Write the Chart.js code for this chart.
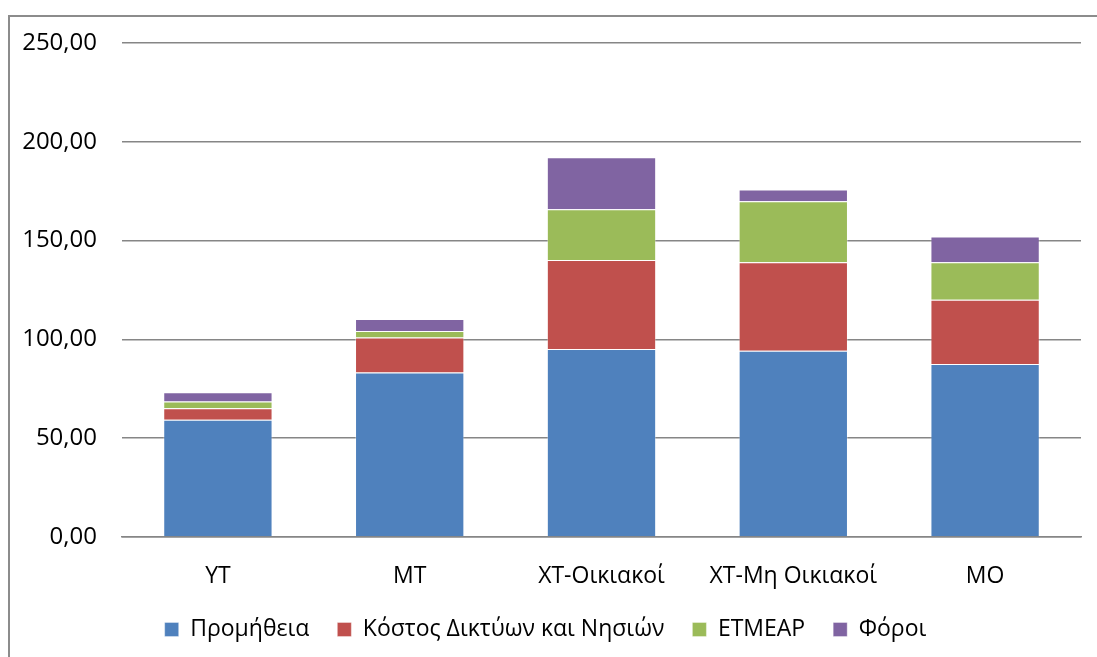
<!DOCTYPE html>
<html>
<head>
<meta charset="utf-8">
<script src="https://cdn.jsdelivr.net/npm/chart.js@4"></script>
<style>
	body { margin: 0; overflow: hidden; background: #fff; }
	#frame { position: absolute; left: 8px; top: 15px; width: 1100px; height: 660px; border: 2px solid #8c8c8c; }
	#wrap { position: absolute; left: 0; top: 0; width: 1087px; height: 640px; }
</style>
</head>
<body>
<div id="frame"><div id="wrap"><canvas id="cost-chart"></canvas></div></div>
<script>
const categories = ["YT", "MT", "XT-Οικιακοί", "XT-Μη Οικιακοί", "MO"];
const seriesNames = ["Προμήθεια", "Κόστος Δικτύων και Νησιών", "ΕΤΜΕΑΡ", "Φόροι"];
const supply = [59.3, 83.3, 95.1, 94.3, 87.5];
const networks = [5.9, 17.7, 45.1, 44.7, 32.6];
const etmear = [3.4, 3.3, 25.7, 30.9, 18.9];
const taxes = [4.7, 6.0, 26.3, 6.0, 13.1];
const colors = ["#4f81bd", "#c0504d", "#9bbb59", "#8064a2"];

const font = "'Open Sans', 'Noto Sans', sans-serif";
const values = [supply, networks, etmear, taxes];

const ctx = document.getElementById("cost-chart");
new Chart(ctx, {
	type: "bar",
	data: {
		labels: categories,
		datasets: values.map((v, i) => ({
			label: seriesNames[i],
			data: v,
			backgroundColor: colors[i],
			borderColor: "rgba(255,255,255,0.35)",
			borderWidth: 1,
			categoryPercentage: 1,
			barPercentage: 0.57
		}))
	},
	options: {
		responsive: true,
		maintainAspectRatio: false,
		animation: false,
		layout: { padding: { top: 26, right: 16, left: 0, bottom: 6 } },
		plugins: {
			title: { display: false },
			tooltip: { enabled: false },
			legend: {
				position: "bottom",
				labels: {
					color: "#000",
					font: { family: font, size: 23 },
					boxWidth: 14,
					boxHeight: 14,
					padding: 28
				}
			}
		},
		scales: {
			x: {
				stacked: true,
				afterFit: s => { s.height = 53; s.paddingLeft = 0; s.paddingRight = 0; },
				grid: { display: false, drawTicks: false },
				border: { color: "#868686", width: 1.5 },
				ticks: { color: "#000", font: { family: font, size: 23 }, padding: 26 }
			},
			y: {
				stacked: true,
				min: 0,
				max: 250,
				afterFit: s => { s.width = 112; s.paddingTop = 0; s.paddingBottom = 0; },
				grid: { color: "#868686", lineWidth: 1.5, drawTicks: false },
				border: { display: false },
				ticks: {
					stepSize: 50,
					color: "#000",
					font: { family: font, size: 24 },
					padding: 25,
					callback: v => v.toFixed(2).replace(".", ",")
				}
			}
		}
	}
});
</script>
</body>
</html>
